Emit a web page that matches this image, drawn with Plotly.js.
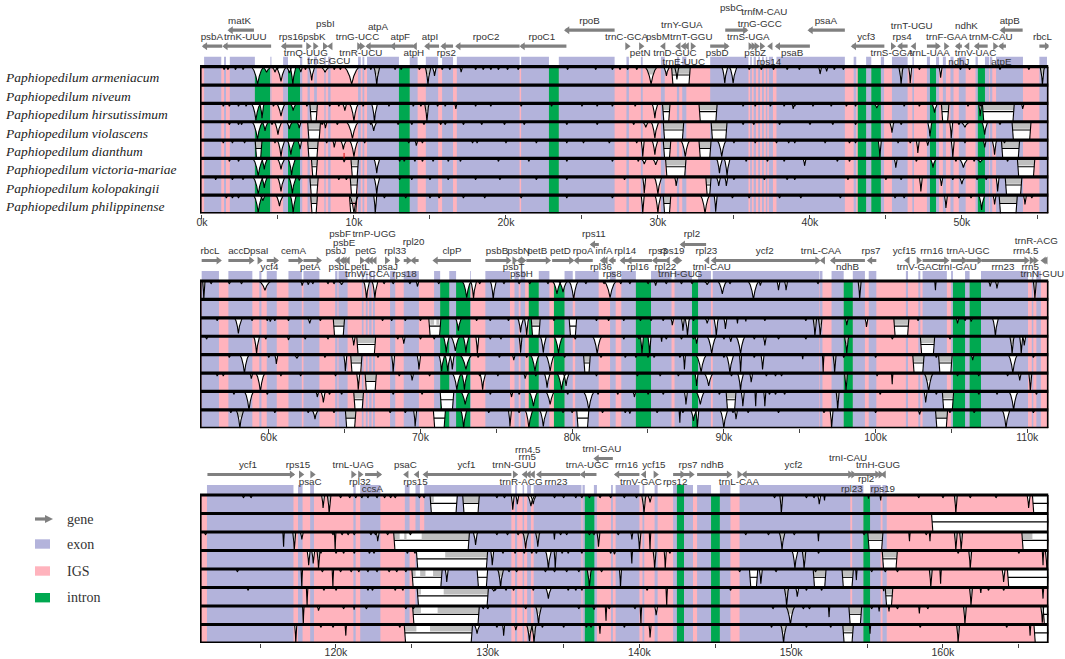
<!DOCTYPE html>
<html><head><meta charset="utf-8">
<script src="https://cdn.plot.ly/plotly-3.0.1.min.js"></script>
<style>html,body{margin:0;padding:0;background:#fff}#c{width:1065px;height:659px}</style></head>
<body><div id="c"></div>
<script>
const species=["Paphiopedilum armeniacum","Paphiopedilum niveum","Paphiopedilum hirsutissimum","Paphiopedilum violascens","Paphiopedilum dianthum","Paphiopedilum victoria-mariae","Paphiopedilum kolopakingii","Paphiopedilum philippinense"];

// ---------- region tables (kb) ----------
const p1Exon=[[0.14,1.27],[1.45,1.58],[1.83,3.48],[4.5,4.57],[5.34,5.66],[6.45,6.6],[6.95,7.1],[7.38,7.56],[8.05,8.14],[8.3,8.46],[10.27,10.45],[10.56,10.68],[10.86,12.96],[13.67,14.19],[14.73,15.54],[15.8,16.52],[16.77,20.9],[21,22.83],[23.48,27.15],[27.93,28.09],[28.88,29],[30.2,30.45],[31.25,31.4],[31.6,31.87],[33.44,35.96],[36.07,36.18],[36.3,36.45],[36.6,36.72],[36.85,36.97],[37.1,37.2],[37.3,37.57],[37.8,42.3],[42.88,43.05],[43.7,44.04],[44.67,44.88],[45.4,46.43],[46.74,46.85],[47.7,47.9],[48.3,48.5],[48.75,48.95],[49.25,49.45],[49.8,50.25],[50.9,51.05],[51.52,51.8],[51.85,52],[52.25,54.02],[55.1,55.6]];
const p1Intron=[[3.48,4.48],[5.66,6.45],[12.96,13.67],[22.83,23.48],[43.15,43.7],[44.04,44.67],[47.9,48.3],[51.05,51.52]];
const p2Exon=[[55.58,56.72],[57.34,58.92],[59.38,59.52],[59.87,60.53],[61.3,62.18],[62.29,63.34],[64.38,64.53],[64.6,65.2],[66.14,66.25],[66.4,66.52],[66.62,66.78],[66.87,67],[68,68.34],[68.9,69.9],[70.9,71.3],[71.9,72.35],[73.28,73.33],[74.28,75.9],[76.2,76.48],[76.6,76.9],[77.8,78.5],[79.5,80.04],[80.2,81.75],[82.5,82.87],[83.24,84.2],[85.2,86.55],[86.75,87.9],[88.3,89.15],[89.27,96.3],[96.33,96.5],[97.1,97.9],[98.5,99.3],[99.55,100.05],[102,102.14],[102.82,102.95],[103.1,104.7],[104.98,105.1],[105.9,106.2],[106.95,110.05],[110.3,110.4],[110.6,110.9]];
const p2Intron=[[71.3,71.9],[72.35,73.28],[77.14,77.8],[78.8,79.5],[84.2,85.2],[87.9,88.3],[97.9,98.5],[105.1,105.9],[106.2,106.95]];
const p3Exon=[[111.5,117.2],[117.5,117.8],[118.3,118.55],[121.15,121.3],[121.6,122.93],[124.54,124.85],[125.24,125.53],[125.82,131.56],[131.8,131.94],[132.3,132.4],[132.6,132.85],[133.03,136.18],[136.25,136.4],[137,137.2],[138.13,138.25],[138.43,140],[140.2,140.32],[141,141.2],[142.22,142.47],[142.94,143.53],[143.8,144.72],[145.3,146],[146.6,153.9],[154.02,154.76],[155.2,155.9],[156.02,156.3]];
const p3Intron=[[136.4,137.03],[142.47,142.94],[144.72,145.3],[154.76,155.2]];
const p3StripIntron=[[142.47,142.94]];

// ---------- genes: name, start, end, strand ----------
const p1Genes=[["psbA",.1,1.33,-1],["matK",1.79,3.42,-1],["trnK-UUU",1.45,4.55,-1],["rps16",5.3,6.6,-1],["trnQ-UUG",6.95,7.1,1],["psbK",7.38,7.56,1],["psbI",8.05,8.2,1],["trnS-GCU",8.35,8.46,-1],["trnG-UCC",10.27,10.45,1],["trnR-UCU",10.5,10.63,1],["atpA",10.86,12.47,-1],["atpF",12.47,13.9,-1],["atpH",13.9,14.2,-1],["atpI",14.73,15.6,-1],["rps2",15.8,16.52,-1],["rpoC2",16.77,20.9,-1],["rpoC1",21,23.98,-1],["rpoB",23.93,27.15,-1],["trnC-GCA",27.93,28.09,1],["petN",28.88,29,1],["psbM",30.25,30.45,-1],["trnD-GUC",31.25,31.4,-1],["trnY-GUA",31.6,31.75,-1],["trnE-UUC",31.8,31.9,-1],["trnT-GGU",32.3,32.4,1],["psbD",33.44,34.6,1],["psbC",34.43,35.84,1],["trnfM-CAU",36.07,36.2,1],["trnS-UGA",36.3,36.4,1],["psbZ",36.45,36.6,1],["trnG-GCC",36.85,36.95,1],["rps14",37.3,37.57,-1],["psaB",37.8,40,-1],["psaA",39.95,42.3,-1],["ycf3",42.8,44.9,-1],["trnS-GGA",45.44,45.57,1],["rps4",45.85,46.43,-1],["trnT-UGU",46.74,46.85,-1],["trnL-UAA",47.7,48.5,1],["trnF-GAA",49,49.07,1],["ndhJ",49.65,50,-1],["ndhK",50.25,50.5,-1],["trnV-UAC",50.9,51.7,-1],["trnM-CAU",52.2,52.3,1],["atpE",52.5,52.9,-1],["atpB",52.6,54,-1],["rbcL",55.1,55.7,1]];
const p1Place=[[.65,29],[2.47,45],[2.85,29],[5.86,29],[6.83,13],[7.4,29],[8.12,42],[8.35,5],[10.23,29],[10.45,13],[11.58,39],[13.05,29],[13.94,13],[15,29],[16.08,13],[18.7,29],[22.36,29],[25.5,45],[27.93,29],[28.83,13],[30,29],[31.12,13],[31.57,41],[31.7,4],[32.2,29],[33.9,13],[34.83,58],[37,54],[35.95,29],[36.4,13],[36.7,42],[37.3,4],[38.83,13],[41.05,45],[43.7,29],[45.4,13],[46.07,29],[46.7,40],[47.88,13],[49,29],[49.8,4],[50.3,40],[50.9,13],[51.9,29],[52.6,4],[53.15,45],[55.3,29]];
const p1Upper=["matK","rpoB","psbC","psaA","atpB"];

const p2Genes=[["rbcL",55.58,56.8,1],["accD",57.34,58.95,1],["psaI",59.4,59.5,1],["ycf4",59.87,60.57,1],["cemA",61.3,62.18,1],["petA",62.29,63.4,1],["psbJ",64.45,64.53,-1],["psbL",64.75,64.8,-1],["psbF",64.9,65,-1],["psbE",65.1,65.2,-1],["trnP-UGG",66.14,66.25,1],["trnW-CCA",66.4,66.47,-1],["petG",66.62,66.7,-1],["petL",66.87,66.95,-1],["rpl33",67.72,67.9,1],["psaJ",68.34,68.56,1],["rps18",68.9,69.33,1],["rpl20",69.44,69.88,-1],["clpP",70.9,73.33,-1],["psbB",74.28,75.9,1],["psbT",76.2,76.3,1],["psbN",76.45,76.55,-1],["psbH",76.7,76.88,1],["petB",76.98,78.5,1],["petD",78.68,80.04,1],["rpoA",80.2,81.36,-1],["rps11",81.27,81.76,-1],["rpl36",81.93,82.1,-1],["infA",82.1,82.3,-1],["rps8",82.5,82.87,-1],["rpl14",83.24,83.68,-1],["rpl16",83.68,85.26,-1],["rps3",85.37,86.2,-1],["rpl22",86.2,86.55,-1],["rps19",86.7,86.95,-1],["trnH-GUG",87.05,87.15,1],["rpl2",87.2,88.83,-1],["rpl23",88.8,89.1,-1],["trnI-CAU",89.25,89.35,-1],["ycf2",89.27,96.27,1],["trnL-CAA",96.43,96.54,-1],["ndhB",97.1,99.3,-1],["rps7",99.54,100.05,-1],["ycf15",102,102.14,-1],["trnV-GAC",102.82,102.95,1],["rrn16",103.1,104.76,1],["trnI-GAU",104.98,105.93,1],["trnA-UGC",105.97,106.96,1],["rrn23",107,110.05,1],["rrn4.5",110.3,110.4,1],["rrn5",110.55,110.65,1],["trnR-ACG",111.1,111.2,-1],["trnN-GUU",110.98,111.06,-1]];
const p2Place=[[56.13,29],[58.06,29],[59.38,29],[60.05,13],[61.63,29],[62.73,13],[64.42,29],[64.64,13],[64.7,46],[64.97,37],[66.95,46],[66.5,6],[66.4,29],[66.03,13],[68.34,29],[67.83,13],[68.95,6],[69.55,38],[72.08,29],[75.05,29],[76.15,13],[76.48,29],[76.66,6],[77.7,29],[79.23,29],[80.73,29],[81.43,46],[81.9,13],[82.1,29],[82.64,6],[83.5,29],[84.34,13],[85.66,29],[86.15,13],[86.6,29],[87.13,6],[87.9,46],[88.85,29],[89.2,13],[92.7,29],[96.4,29],[98.15,13],[99.7,29],[101.9,29],[102.78,13],[103.7,29],[105.4,13],[106.1,29],[108.4,13],[109.9,29],[110.2,13],[110.6,39],[110.99,6]];
const p2Upper=["rps11","rpl2"];

const p3Genes=[["ycf1",111.53,117.2,1],["rps15",117.5,117.8,1],["psaC",118.26,118.55,1],["trnL-UAG",121.15,121.25,1],["rpl32",121.6,121.7,1],["ccsA",121.92,122.93,1],["psaC",124.54,124.85,-1],["rps15",125.24,125.53,-1],["ycf1",125.82,131.56,-1],["trnN-GUU",131.8,131.9,1],["trnR-ACG",132.35,132.45,-1],["rrn5",132.6,132.7,-1],["rrn4.5",132.87,133,-1],["rrn23",133.3,136.1,-1],["trnA-UGC",136.18,137.17,-1],["trnI-GAU",137.08,138.25,-1],["rrn16",138.43,140,-1],["trnV-GAC",140.2,140.3,-1],["ycf15",141,141.17,1],["rps12",142.22,142.94,1],["rps7",142.94,143.53,1],["ndhB",143.8,146,1],["trnL-CAA",146.6,146.7,1],["ycf2",146.83,153.87,-1],["trnI-CAU",153.9,154,1],["rpl23",154.02,154.2,1],["rpl2",154.2,155.78,1],["trnH-GUG",155.9,156,1],["rps19",156,156.35,-1]];
const p3Place=[[114.2,29],[117.5,29],[118.3,12.5],[121.13,29],[121.58,12.5],[122.4,5.7],[124.58,29],[125.24,12.5],[128.6,29],[131.74,29],[132.2,12.5],[132.6,37],[132.64,44],[134.5,12.5],[136.56,29],[137.53,45],[139.15,29],[140.1,12.5],[140.95,29],[142.36,12.5],[143.2,29],[144.8,29],[146.56,12.5],[150.16,29],[153.75,36.7],[154,5.7],[154.94,15],[155.73,29],[156.04,5.7]];
const p3Upper=["trnI-GAU"];

// ---------- conservation dips per row: centre kb, depth, half width, grey cap ----------
const p1Dips=[
[[3.66,.95,.4],[4.25,.3,.3],[4.8,.3,.2],[5.2,.8,.35],[5.75,.35,.2],[5.98,1,.2],[6.5,.3,.15],[7.22,.75,.2],[8.1,.3,.3],[9.85,.95,.5],[11.5,1,.2,1],[14.87,1,.2,1],[15.3,.5,.15],[17.05,.3,.1],[29.55,.95,.4,1],[30.56,.5,.2],[31.25,.7,.15],[34.4,.9,.2],[34.95,.9,.25],[40.67,.4,.1],[41.1,.25,.1],[46,.95,.15,1],[46.6,.9,.1],[48.6,.6,.1],[55.3,1,.15,1]],
[],
[[3.55,.9,.3],[3.95,.8,.15],[5.2,.7,.3],[6,.4,.2],[9.4,.4,.15],[10,.95,.3],[11.35,1,.2],[14.8,1,.15,1],[16.7,.3,.08],[29.8,.8,.2],[38.9,.3,.1],[44.4,.25,.2],[48.2,.5,.2],[51.2,.7,.1],[54,.3,.1]],
[[3.65,.95,.35],[4.15,.5,.2],[5,.7,.25],[5.75,.4,.2],[6.4,.35,.15],[8.12,.35,.1],[9.9,.9,.4],[11.3,.5,.2],[29.2,.3,.2],[29.8,.9,.25],[45.4,.6,.15],[47.9,.8,.15],[49.3,.9,.1],[50.2,.3,.3],[51.5,.7,.2]],
[[5.2,.9,.25],[5.85,.8,.25],[6.45,.5,.15],[8.7,.4,.1],[9.3,.5,.2],[10,.9,.3],[14.1,.3,.1],[29,.9,.1],[29.8,.8,.2],[31.8,.9,.3],[34.2,.9,.3],[44.6,.95,.1],[47.1,.7,.1],[47.75,.3,.1],[49.4,.95,.1],[51.5,.4,.1],[52.15,.8,.15]],
[[3.7,.95,.35],[4.1,.6,.2],[5.2,.6,.25],[5.9,.9,.25],[9.35,.2,.1],[11.5,.8,.2],[29.1,.3,.2],[29.85,.35,.2],[34.05,.8,.2],[34.55,.95,.2],[39.65,.4,.1],[45.65,.5,.1],[48.1,.5,.2],[50.1,.5,.3],[51.2,.2,.3]],
[[3.7,.95,.35],[4.1,.6,.2],[5.2,.8,.25],[5.95,.9,.25],[6.4,.2,.1],[11.5,.95,.2],[29.1,.9,.1],[30,.95,.25],[31.2,.5,.1],[34,.5,.15],[34.5,.5,.1],[47.3,.8,.1],[48.65,.5,.1],[50,.4,.2],[52.35,.8,.1]],
[[3.7,.95,.3],[4,.3,.2],[5.1,.6,.25],[6,1,.2],[10,1,.3],[11.4,1,.1],[29,1,.1],[30,1,.2],[33.1,1,.3],[33.8,.9,.1],[48.95,.7,.1],[51.3,.8,.2],[52.15,.5,.1],[54.15,.5,.1]]];
const p1Gaps=[
[[30.9,32.13]],[],
[[7.1,7.6],[30.3,30.8],[32.7,33.9],[48.65,49.15],[51.35,53.45]],
[[6.95,7.8],[30.35,31.7],[33.5,34.55],[53.3,54.55]],
[[3.5,3.95],[6.95,7.65],[30.35,30.85],[32.7,33.5],[52.6,53.8]],
[[7.2,7.6],[9.8,10.3],[30.5,31.85],[53.65,54.8]],
[[7.1,7.65],[9.75,10.25],[33.15,33.5],[52.85,53.95]],
[[7.15,7.6],[9.7,10.2],[30.35,30.85],[52.45,53.65]]];
const p1Bumps=[
[1.45,1.7,2.2,2.7,4.95,6.8,8.7,9.1,10.7,11.1,12.7,13.1,14.3,15.8,16.3,18,18.5,19,19.5,20.1,20.8,24.05,25.9,27,27.5,28,28.6,36,36.8,37.6,38.5,39.3,41.6,42.2,47.2,49.9,50.5,52.5,54.4],
[],
[1.4,1.8,2.4,2.9,4.7,6.9,8.4,9,10.6,12.3,13.9,14.4,15.5,16,18,19,21,23,25,26,27,28.5,35.6,36.4,37.4,38.3,39,40.2,41.4,42.4,43,46.2,47.2,50.4,51.2],
[1.8,2.4,2.6,4.6,7.9,8.9,11.1,12.9,13.8,14.6,15.7,16,17.2,18.4,19.9,21.2,24,26,28.4,35.6,36.3,38,40,41.5,43,46,49.8,52.5],
[1.4,2,2.8,4.8,8.2,10.7,13.6,14.5,17.8,18.1,20,22,24,25.1,26.8,28.6,35,36.4,37.8,38.6,39,41,42.6,43,45.8,46.6,50.2,52.8],
[1.8,2.4,13,13.3,14,14.5,15.2,16.2,17,19.5,21.5,24,27,28.7,35.8,37.2,38.3,41.8,42.6,47,49.6,50.8,53],
[.9,2,2.7,9,9.5,13,13.8,15,16.2,18,19.6,22,24,27.8,35,37,38.5,39,42.5,45,46,49.4,51,51.6],
[1.6,2,2.4,12,13.4,15,15.6,17.2,18.6,21,24,27,34.9,36,38,39.4,42,45.6,46.2,49.8,50.6,54.6]];

const p2Dips=[
[[55.72,1,.08,1],[59.75,.5,.4],[62.2,.25,.1],[62.6,.2,.1],[64.8,.2,.2],[66.45,1,.2],[67,.95,.2],[69.8,.3,.1],[73.05,.9,.3],[73.5,.95,.2],[74.8,1,.2],[79,.7,.3],[79.4,.6,.3],[80.1,1,.3],[82.5,.9,.4],[85.5,.25,.1],[88.9,.2,.2],[89.9,.7,.3],[91.95,1,.35],[92.4,.25,.1],[93.6,.5,.1],[94.1,.5,.1],[98.95,1,.1,1],[103.95,.5,.05],[107.55,.3,.1],[108,.4,.1],[110.5,1,.1,1]],
[],
[[58,.85,.25],[60.1,.2,.1],[62.7,.3,.15],[72.5,.7,.2],[76.6,.8,.2],[77,.95,.15],[86.6,.4,.1],[87.3,.7,.1],[87.6,.95,.15],[88.9,.3,.15],[89.5,1,.15],[90.1,.6,.1],[90.9,.3,.05],[91.45,.2,.05],[96,1,.12,1],[96.35,1,.12,1],[98.1,.4,.1],[99.4,.5,.1],[105.4,.3,.1],[106.3,.2,.1],[107.9,1,.2]],
[[59.2,.95,.2],[61.3,.2,.1],[65.6,.5,.1],[68.9,.4,.1],[71.7,.9,.2],[72.3,.8,.3],[73,.9,.2],[73.75,.95,.1],[76.6,.9,.1,1],[78.1,.9,.2],[79.1,.9,.3],[81.65,.95,.3],[84.6,1,.1],[85.1,1,.1],[85.9,.3,.05],[88.2,.4,.1],[89.2,.95,.3],[90.45,.3,.1],[91.1,.95,.3],[92.7,.5,.1],[98.1,.95,.15,1],[109,.95,.15,1],[109.6,.95,.1],[109.8,.5,.1]],
[[58.4,1,.3],[60.5,.5,.1],[61.85,.2,.2],[65.05,.9,.1],[68.2,.95,.1],[69.9,.8,.12],[71.4,.9,.2],[71.8,.9,.2],[72.1,.8,.15],[73,.8,.4],[76.15,.3,.1],[77.55,.9,.3],[78.55,.9,.3],[87.4,.8,.07],[88.5,.95,.35],[90.4,1,.25],[91.1,1,.07],[92.55,.8,.1],[95.2,.25,.05],[96.55,1,.05],[97.3,1,.1,1],[106.4,.3,.1],[109.05,1,.3]],
[[59.45,1,.3],[58.85,.3,.1],[65.9,.9,.1],[69.45,.4,.1],[72.4,.9,.3],[72.9,.9,.2],[74.1,.9,.2],[76.9,.3,.1],[78.35,.8,.2],[79.3,.9,.3],[79.6,.7,.2],[88.2,.7,.1],[89,.7,.3],[91.1,.95,.2],[91.8,.5,.1],[98.05,1,.1,1],[101.1,.6,.05],[103.5,1,.3,1],[109.5,.4,.1],[110.2,1,.1,1]],
[[58.7,1,.3],[63.6,.6,.15],[63.2,.3,.1],[72.95,.7,.3],[76,.3,.1],[77.45,.8,.3],[78.55,.7,.3],[81.1,1,.35],[84.1,.3,.1],[87.5,.7,.1],[88.45,.7,.3],[91.25,.8,.1],[92.1,.8,.05],[92.7,.8,.07],[97.5,1,.1,1],[103.3,.6,.1],[109.1,1,.3]],
[[58.1,1,.25,1],[63.05,.5,.2],[69.65,.9,.1],[72.85,1,.2],[75.9,.9,.1],[77.15,1,.25],[78.1,.9,.25],[83.8,.2,.1],[87.1,.7,.05],[88,.6,.2],[88.25,1,.1],[90,1,.25],[90.8,.5,.1],[97.1,1,.1],[102.9,.25,.1],[108.6,1,.25]]];
const p2Gaps=[
[],[],
[[64.25,65],[70.55,71.35,[[70.65,70.9],[71.05,71.25]]],[77.3,77.9],[79.8,80.3,[]],[101.2,102.2]],
[[65.8,67.05],[102.95,103.9]],
[[65.4,66.15],[80.75,81.2],[102.45,103.2],[104.15,105.05]],
[[66.35,67.1]],
[[65.6,66.25],[71.3,72.2,[]],[90.15,90.8],[104.4,105.15]],
[[65.05,65.75],[70.85,71.65,[]],[80.3,81.1,[]],[103.95,104.75]]];
const p2Bumps=[
[56.2,57.4,58.2,62.9,63.9,64.3,67.6,68.2,69.3,71.2,73.9,75.5,76.5,77.2,78.4,80.9,82.1,83.2,83.8,85,86.2,87.2,87.9,90.4,96.2],
[],
[56.6,58.9,59.9,60.4,61.3,63.4,67.5,68.1,69,70,73.7,74.6,75.8,78.8,81.6,82.4,83.4,84.5,85.2,86,88,92.7,95.4,102.8,105.9],
[55.9,59.8,62.4,63.9,68.5,70,70.9,74.6,75.3,80.2,83.4,84.4,86.2,87.2,88,90,92,93.6,95.4,101.1,104.9],
[57.4,60,63.7,67.2,73.8,75.2,77,79.5,81.9,83.5,84.2,85,85.4,87.1,90,92,97.9,100,104,110.4],
[56.6,57,60.8,62.1,64.4,68.6,70.6,73.9,75.1,77.6,81.6,84.3,85.8,87,90.5,92.8,93.4,93.8,100.1,105.4,106.8,108.7],
[57.7,59.9,64,64.8,68.2,70.1,74.6,76.5,79.7,81.7,83,85,86,89.7,93,93.4,94,100.3,104,106.8,108,110.6],
[57.5,60.4,62.6,64.3,68,69,74.5,76.5,79.4,80,82,83.5,85.6,87.3,90.6,91.6,93.6,96.6,100,104.9,106.5,110.4]];

const p3Dips=[
[[119.15,.7,.1],[119.55,1,.12,1],[131.65,.8,.1],[131.95,.5,.1],[132.85,.6,.25],[133,.5,.2],[140.3,1,.15,1],[140.7,.4,.15],[149.35,1,.1,1],[151.85,.5,.1],[152.2,.3,.05],[155.1,.2,.05],[155.9,.3,.05],[160.85,1,.1,1],[165.65,.7,.1]],
[],
[[116.55,.8,.05],[117.25,1,.1,1],[117.75,.4,.1],[119.95,1,.05],[122.75,.5,.1],[129.2,.7,.15],[132.5,.9,.2,1],[133.3,.8,.15,1],[134.4,.4,.05],[137.3,.8,.1,1],[139.5,.4,.07],[140,1,.1,1],[140.7,1,.05],[149.4,.95,.2,1],[151.8,.5,.05],[157.8,.5,.05],[159.15,.5,.05],[160.85,1,.1,1],[161.2,1,.1,1]],
[[118.2,.8,.1],[118.5,.7,.1],[118.85,1,.1,1],[130.3,.8,.1],[134,1,.2],[134.45,1,.07],[138.35,.2,.1],[139.5,.7,.05],[141,1,.1,1],[141.7,1,.07],[150.25,1,.2],[150.85,1,.12,1],[161.8,1,.1,1],[166.6,.8,.05],[166.85,1,.1]],
[[117.75,1,.05],[119.8,1,.05],[127.3,.7,.1],[130.85,1,.2,1],[136.7,1,.15,1],[138.75,1,.07],[148,.8,.1],[154.3,.6,.05],[159.2,1,.1,1],[159.85,.8,.05],[164,.7,.1]],
[[118.1,1,.05],[130.4,.2,.2],[134,.6,.2],[141.8,1,.05],[149.7,1,.15,1],[150.4,.5,.1],[156.1,.2,.05],[161.85,1,.1,1],[162.5,.3,.05],[166.6,.6,.05]],
[[117.85,1,.05],[118.85,.25,.1],[121.2,.2,.05],[133.35,1,.2,1],[137,.2,.1],[137.8,.8,.05],[140.1,1,.05],[141.1,.5,.1],[149.95,1,.3,1],[152.5,.6,.05],[155.8,.3,.05],[156.45,.3,.05],[158.45,.4,.05],[161.45,1,.1,1],[166.55,.9,.1]],
[[117.35,1,.07],[120.65,.6,.05],[129.3,.5,.2],[131.05,.6,.07],[131.85,.3,.1],[132.75,.9,.2,1],[133.05,1,.15,1],[137.4,.5,.05],[140.7,.7,.07],[149.5,1,.2,1],[155.2,.5,.05],[161,1,.1,1],[165.75,.6,.05]]];
const p3Gaps=[
[[126.2,128,[[126.2,126.45]]],[128.35,129.45],[165.9,167,[]]],
[[159.25,167,[]]],
[[123.8,128.8,[[123.8,124.2],[124.5,124.65],[125.65,128.8]]],[155.05,156.05],[165.2,167,[[165.2,165.9]]]],
[[125.3,130,[[127.2,130]]],[156,157]],
[[125,127,[[125,125.25],[125.55,125.9],[126.4,127]]],[129.3,130,[]],[147.25,147.8,[]],[151.45,152.3],[153.35,154.1],[164.25,167,[]]],
[[125.35,130.05,[[125.35,125.6],[127.1,130.05]]],[156.2,156.7]],
[[125.05,129.45,[[125.05,125.6],[126.7,129.45]]],[153.8,154.65],[166.6,167,[]]],
[[124.5,129,[[124.5,125.3],[126.2,129]]],[153.4,154.1],[166,167,[]]]];
const p3Bumps=[
[113.9,114.4,120.3,120.9,121.3,121.7,122.1,122.7,123.2,123.6,123.9,125.5,125.8,130.6,131.1,134.4,135,135.8,136.2,136.7,137.4,138.1,139,139.8,148.9,151,151.5,158.4,160,161.8,163.5],
[],
[111.4,119.8,120.4,120.8,121.2,122.3,122.6,123.4,124.9,130.6,131.3,132,134.8,135.2,136.7,137,138.6,147,148.5,150.2,154.8,158.9],
[119,120,120.5,121.2,122.2,122.5,124.7,125.2,131,131.8,132.4,132.9,133.2,134.9,135.3,136.2,138.1,142,151.8,161,165],
[113.5,119.1,120.3,121,121.5,122.1,122.7,123.5,124,124.6,131.4,131.9,133.8,134.4,135.2,136,137.5,146.6,149,151.6,155.3,156.2,157],
[114.2,119.2,120,122.1,122.4,123.9,124.4,130.5,131.2,131.7,133,135.3,135.8,136.2,140.5,146,151,152,163,164],
[120.5,122,124.6,125.1,129.7,130,132.5,136,138,139.7,148.8,150.8,151.2,155.3,157,159],
[119,119.8,124.2,130.6,133.6,135,136.5,136.8,139,148.7,151,152.6,158.5,164.2]];

// ---------- axes and tick labels ----------
const p1Ticks=[0,5,10,15,20,25,30,35,40,45,50,55];
const p1Labels=["0k","","10k","","20k","","30k","","40k","","50k",""];
const p2Ticks=[60,65,70,75,80,85,90,95,100,105,110];
const p2Labels=["60k","","70k","","80k","","90k","","100k","","110k"];
const p3Ticks=[115,120,125,130,135,140,145,150,155,160,165];
const p3Labels=["","120k","","130k","","140k","","150k","","160k",""];
const legendNames=["gene","exon","IGS","intron"];

// ---------- colours ----------
const EXON="#b3b3db",IGS="#ffb3bd",INTRON="#00a850",GREY="#bfbfbf",GENE="#808080",INK="#000";
const W=1065,H=659;
const frameL=200,frameR=1048.5;

const panels=[
 {exon:p1Exon,intron:p1Intron,strip:[],genes:p1Genes,place:p1Place,upper:p1Upper,dips:p1Dips,gaps:p1Gaps,bumps:p1Bumps,ticks:p1Ticks,labels:p1Labels,r:[-0.13,55.7],top:66.7,bot:213.5,dTop:0},
 {exon:p2Exon,intron:p2Intron,strip:[],genes:p2Genes,place:p2Place,upper:p2Upper,dips:p2Dips,gaps:p2Gaps,bumps:p2Bumps,ticks:p2Ticks,labels:p2Labels,r:[55.47,111.4],top:281,bot:428.3,dTop:225},
 {exon:p3Exon,intron:p3Intron,strip:p3StripIntron,genes:p3Genes,place:p3Place,upper:p3Upper,dips:p3Dips,gaps:p3Gaps,bumps:p3Bumps,ticks:p3Ticks,labels:p3Labels,r:[111.04,166.96],top:495,bot:643,dTop:445}];

const traces=[];const layout={width:W,height:H,margin:{l:0,r:0,t:0,b:0},paper_bgcolor:"#fff",plot_bgcolor:"rgba(0,0,0,0)",showlegend:false,barmode:"overlay",annotations:[],shapes:[],font:{family:"Liberation Sans, Arial, sans-serif",color:"#333",size:10}};

function bars(list,base,h,col,xa,ya){
  traces.push({type:"bar",x:list.map(d=>(d[0]+d[1])/2),width:list.map(d=>d[1]-d[0]),y:list.map(()=>h),base:base,marker:{color:col,line:{width:0}},xaxis:xa,yaxis:ya,hoverinfo:"skip"});
}
panels.forEach((p,j)=>{
  const s=j?String(j+1):"",xa="x"+s,ya="y"+s;
  const rowPx=(p.bot-p.top)/8;
  const yTopUnits=(p.bot-p.dTop)/rowPx;
  layout["xaxis"+s]={domain:[frameL/W,frameR/W],range:p.r,anchor:ya,showgrid:false,zeroline:false,showline:false,tickmode:"array",tickvals:p.ticks,ticktext:p.labels,ticks:"outside",ticklen:4,tickwidth:1,tickcolor:"#444",ticklabelstandoff:-5,tickfont:{size:10.5,color:"#333"},fixedrange:true};
  layout["yaxis"+s]={domain:[1-p.bot/H,1-p.dTop/H],range:[0,yTopUnits],anchor:xa,visible:false,fixedrange:true};
  for(let r=0;r<8;r++){
    const base=7-r;
    const bs=l=>l.map(()=>base);
    bars([p.r],bs([p.r]),1,IGS,xa,ya);
    bars(p.exon,bs(p.exon),1,EXON,xa,ya);
    bars(p.intron,bs(p.intron),1,INTRON,xa,ya);
  }
  const lift=px=>8+px/rowPx;
  bars(p.exon,p.exon.map(()=>lift(0)),10/rowPx,EXON,xa,ya);
  if(p.strip.length)bars(p.strip,p.strip.map(()=>lift(0)),10/rowPx,INTRON,xa,ya);
  const wx=[],wy=[],gx=[],gy=[],kx=[],ky=[];
  const add=(ax,ay,pts)=>{pts.forEach(q=>{ax.push(q[0]);ay.push(q[1])});ax.push(null);ay.push(null)};
  for(let r=0;r<8;r++){
    const T=8-r;
    (p.gaps[r]||[]).forEach(g=>{
      const a=g[0],b=g[1],t=.09;
      add(wx,wy,[[a,T],[b,T],[b-t,T-1],[a+t,T-1],[a,T]]);
      (g[2]||[[a,b]]).forEach(c=>{
        const l=Math.max(c[0],a+.02),rr=Math.min(c[1],b-.02);
        add(gx,gy,[[l,T],[rr,T],[rr,T-.38],[l,T-.38],[l,T]]);
      });
      const f=.45;
      add(kx,ky,[[a,T],[a+t,T-1]]);add(kx,ky,[[b,T],[b-t,T-1]]);
      add(kx,ky,[[a+t*f,T-f],[b-t*f,T-f]]);
    });
    const wedge=(k,d,w)=>[[k-w,T],[k-w*.62,T-d*.2],[k-w*.27,T-d*.55],[k,T-d],[k+w*.27,T-d*.55],[k+w*.62,T-d*.2],[k+w,T]];
    (p.dips[r]||[]).forEach(v=>{
      const pts=wedge(v[0],v[1],v[2]);
      add(wx,wy,pts);add(kx,ky,pts);
      if(v[3])add(gx,gy,[[v[0]-v[2]*.9,T],[v[0]+v[2]*.9,T],[v[0]+v[2]*.4,T-.42],[v[0]-v[2]*.4,T-.42]]);
    });
    (p.bumps[r]||[]).forEach(k=>{
      const pts=wedge(k,.16,.1);add(wx,wy,pts);add(kx,ky,pts);
    });
  }
  const poly=(xs,ys,col)=>traces.push({type:"scatter",mode:"lines",x:xs,y:ys,fill:"toself",fillcolor:col,line:{width:0,color:col},xaxis:xa,yaxis:ya,hoverinfo:"skip"});
  poly(wx,wy,"#fff");poly(gx,gy,GREY);
  traces.push({type:"scatter",mode:"lines",x:kx,y:ky,line:{width:1.1,color:INK},xaxis:xa,yaxis:ya,hoverinfo:"skip"});
  const fx=[],fy=[];
  for(let r=0;r<=8;r++){fx.push(p.r[0],p.r[1],null);fy.push(r,r,null)}
  fx.push(p.r[0],p.r[0],null,p.r[1],p.r[1]);fy.push(0,8,null,0,8);
  traces.push({type:"scatter",mode:"lines",x:fx,y:fy,line:{width:3.2,color:INK},cliponaxis:false,xaxis:xa,yaxis:ya,hoverinfo:"skip"});
  const ax=[],ay=[],tipX=[],tipY=[],tipS=[];
  p.genes.forEach(g=>{
    const y=lift(p.upper.includes(g[0])?36.5:20.5);
    const span=g[2]-g[1];
    if(span>.35){ax.push(g[1],g[2],null);ay.push(y,y,null);}
    tipX.push(g[3]>0?g[2]-.12:g[1]+.12);tipY.push(y);tipS.push(g[3]>0?"triangle-right":"triangle-left");
  });
  traces.push({type:"scatter",mode:"lines",x:ax,y:ay,line:{width:3.2,color:GENE},xaxis:xa,yaxis:ya,hoverinfo:"skip"});
  traces.push({type:"scatter",mode:"markers",x:tipX,y:tipY,marker:{symbol:tipS,size:7,color:GENE,line:{width:0}},xaxis:xa,yaxis:ya,hoverinfo:"skip"});
  traces.push({type:"scatter",mode:"text",x:p.place.map(q=>q[0]),
    y:p.place.map(q=>lift(q[1])),text:p.genes.map(g=>g[0]),textposition:"middle center",
    textfont:{family:"Liberation Sans, Arial, sans-serif",size:9.8,color:"#333"},cliponaxis:false,xaxis:xa,yaxis:ya,hoverinfo:"skip"});
});

// small red mark in the victoria-mariae row
traces.push({type:"scatter",mode:"lines",x:[9.35,9.35],y:[3,3.3],line:{width:1,color:"#e01010"},xaxis:"x",yaxis:"y",hoverinfo:"skip"});

// species names
const speciesY=[77.7,96,114.7,133.3,151.7,170,188.3,206.7];
species.forEach((n,i)=>layout.annotations.push({xref:"paper",yref:"paper",x:3/W,y:1-speciesY[i]/H,xanchor:"left",yanchor:"middle",text:"<i>"+n+"</i>",showarrow:false,font:{family:"Liberation Serif, Times New Roman, serif",size:13.5,color:"#222"}}));

// key
const keyY=[519,544,571,597.7];
legendNames.forEach((n,i)=>layout.annotations.push({xref:"paper",yref:"paper",x:65/W,y:1-keyY[i]/H,xanchor:"left",yanchor:"middle",text:n,showarrow:false,font:{family:"Liberation Serif, Times New Roman, serif",size:14,color:"#333"}}));
const keyColors=[null,EXON,IGS,INTRON];
keyColors.forEach((c,i)=>{ if(!c)return;
  layout.shapes.push({type:"rect",xref:"paper",yref:"paper",x0:35/W,x1:50/W,y0:1-(keyY[i]-4.7)/H,y1:1-(keyY[i]+4.7)/H,fillcolor:c,line:{width:0}});
});
layout.shapes.push({type:"rect",xref:"paper",yref:"paper",x0:35/W,x1:46/W,y0:1-(keyY[0]-1.6)/H,y1:1-(keyY[0]+1.6)/H,fillcolor:GENE,line:{width:0}});
layout.shapes.push({type:"path",xref:"paper",yref:"paper",path:`M ${45/W} ${1-(keyY[0]-4)/H} L ${53/W} ${1-keyY[0]/H} L ${45/W} ${1-(keyY[0]+4)/H} Z`,fillcolor:GENE,line:{width:0}});

Plotly.newPlot("c",traces,layout,{displayModeBar:false,staticPlot:true});
</script></body></html>
